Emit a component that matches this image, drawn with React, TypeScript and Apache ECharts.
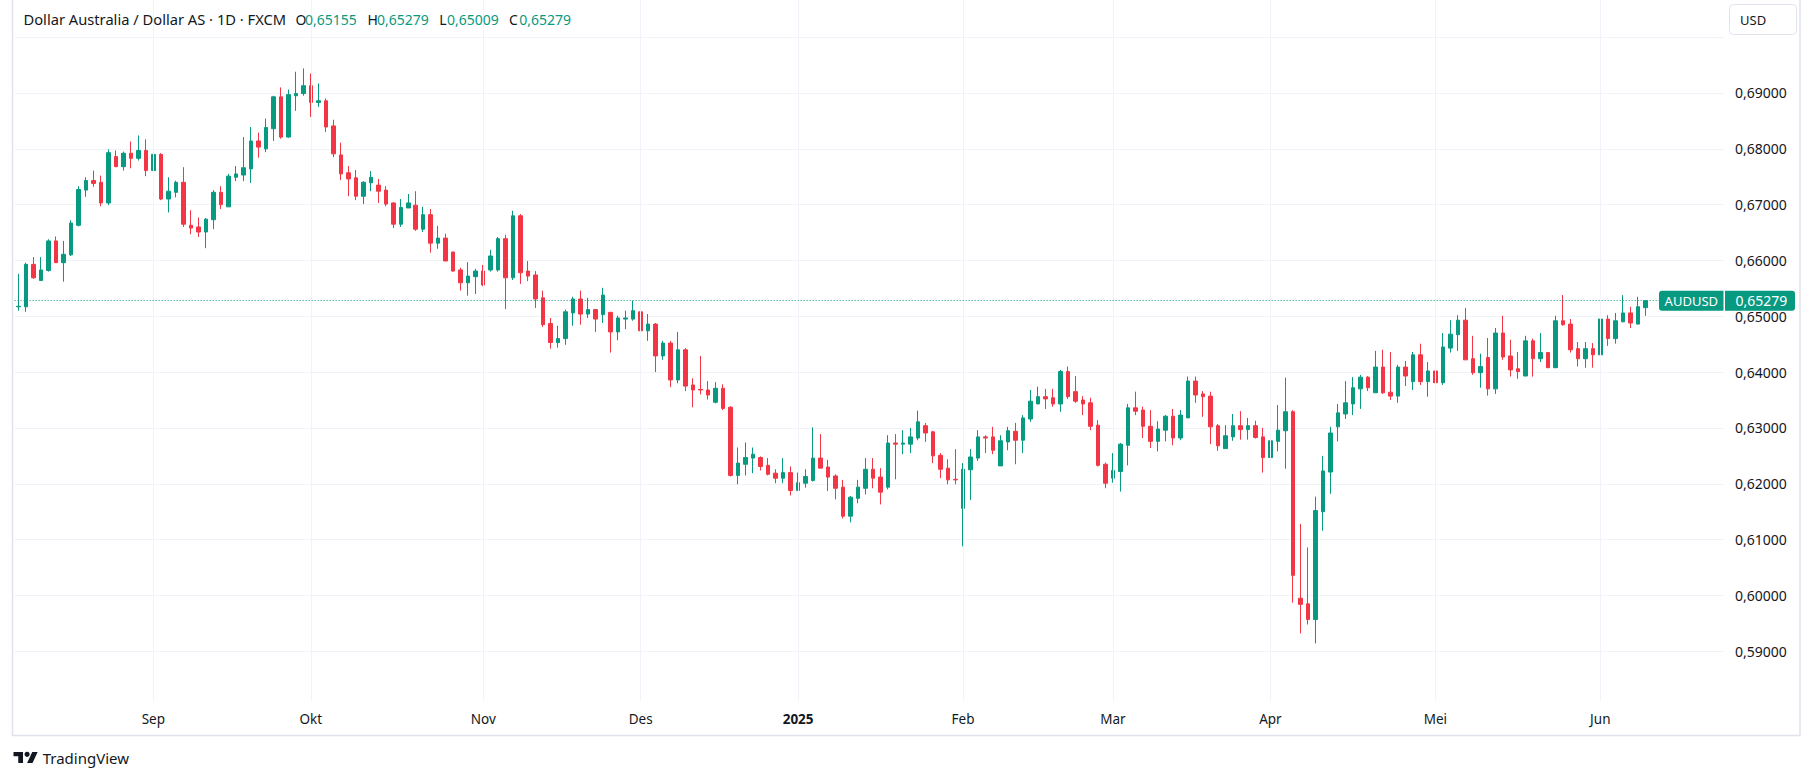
import React, { useEffect, useRef } from "react";
import * as echarts from "echarts";

const FONT = '"Noto Sans", "Open Sans", sans-serif';
const UP = "#089981";
const DOWN = "#f23645";
const TEXT = "#131722";
const GRID = "#f0f3fa";
const BORDER = "#e0e3eb";

const FIRST_DAY = "2024-08-07";
const LAST_DAY = "2025-06-10";
const MARKET_HOLIDAYS = ["2024-12-25", "2025-01-01"];
const EMPTY_BARS_RIGHT = 10;

const monthLabels: Record<string, string> = {
  "2024-09": "Sep",
  "2024-10": "Okt",
  "2024-11": "Nov",
  "2024-12": "Des",
  "2025-01": "2025",
  "2025-02": "Feb",
  "2025-03": "Mar",
  "2025-04": "Apr",
  "2025-05": "Mei",
  "2025-06": "Jun",
};

const titleText = "Dollar Australia / Dollar AS · 1D · FXCM";
const symbolText = "AUDUSD";
const currencyText = "USD";

const opens = [
  0.6517, 0.6517, 0.6593, 0.6564, 0.6582, 0.6635, 0.6596, 0.661, 0.6663, 0.6726,
  0.6743, 0.674, 0.6703, 0.6786, 0.6768, 0.6792, 0.6783, 0.6797, 0.6761, 0.679,
  0.671, 0.6722, 0.674, 0.6663, 0.666, 0.6651, 0.6673, 0.6722, 0.6696, 0.6749,
  0.6753, 0.6764, 0.6814, 0.68, 0.6836, 0.6893, 0.6821, 0.6895, 0.6899, 0.6913,
  0.6883, 0.6886, 0.6841, 0.6789, 0.6757, 0.6748, 0.6715, 0.6739, 0.6735, 0.6726,
  0.6703, 0.6665, 0.6694, 0.6699, 0.6656, 0.6682, 0.6631, 0.664, 0.6615, 0.6583,
  0.656, 0.6571, 0.6581, 0.6583, 0.6583, 0.6639, 0.6569, 0.668, 0.6581, 0.6574,
  0.6533, 0.6487, 0.6453, 0.646, 0.6506, 0.6531, 0.6504, 0.6512, 0.6503, 0.6507,
  0.6472, 0.6495, 0.6495, 0.6508, 0.6474, 0.6486, 0.6429, 0.6452, 0.6386, 0.644,
  0.6377, 0.6369, 0.6368, 0.6346, 0.6371, 0.6337, 0.6215, 0.6235, 0.6246, 0.6247,
  0.6233, 0.6219, 0.621, 0.622, 0.6188, 0.6201, 0.6206, 0.6246, 0.623, 0.6214,
  0.6194, 0.6142, 0.6174, 0.6192, 0.6226, 0.6212, 0.6194, 0.6273, 0.6271, 0.6271,
  0.6282, 0.6304, 0.6293, 0.6251, 0.6228, 0.6208, 0.6156, 0.6225, 0.6246, 0.6284,
  0.6284, 0.6232, 0.6275, 0.6294, 0.6278, 0.6316, 0.6343, 0.6356, 0.6354, 0.6343,
  0.6401, 0.6365, 0.635, 0.6345, 0.6305, 0.6235, 0.621, 0.6222, 0.6269, 0.6336,
  0.6332, 0.6303, 0.6276, 0.6296, 0.6321, 0.6282, 0.6318, 0.6384, 0.6361, 0.6357,
  0.6304, 0.6263, 0.6284, 0.6304, 0.6297, 0.6304, 0.6284, 0.6247, 0.6276, 0.6295,
  0.6329, 0.5995, 0.5985, 0.5957, 0.615, 0.6221, 0.6302, 0.6325, 0.6343, 0.637,
  0.6391, 0.6363, 0.6409, 0.6364, 0.6357, 0.6409, 0.6383, 0.6431, 0.6383, 0.6402,
  0.6381, 0.6443, 0.6467, 0.6493, 0.6424, 0.6399, 0.6426, 0.637, 0.647, 0.6429,
  0.6406, 0.6393, 0.6456, 0.6424, 0.6435, 0.6408, 0.6492, 0.6486, 0.6442, 0.6424,
  0.6442, 0.6431, 0.6495, 0.646, 0.649, 0.6506, 0.6486, 0.65155,
];

const highs = [
  0.6576, 0.6596, 0.6606, 0.6606, 0.6638, 0.6643, 0.6635, 0.6672, 0.6733, 0.6749,
  0.6761, 0.6752, 0.6799, 0.6797, 0.6795, 0.6813, 0.6824, 0.6817, 0.6795, 0.6792,
  0.6749, 0.6743, 0.6767, 0.669, 0.6677, 0.6676, 0.6726, 0.6733, 0.6755, 0.6769,
  0.6821, 0.6839, 0.6829, 0.6854, 0.6895, 0.691, 0.6906, 0.6938, 0.6944, 0.6935,
  0.6917, 0.689, 0.6852, 0.6811, 0.6769, 0.6762, 0.6742, 0.676, 0.6746, 0.6733,
  0.6704, 0.671, 0.6719, 0.6724, 0.6696, 0.6692, 0.6662, 0.6648, 0.6616, 0.6587,
  0.6597, 0.6585, 0.6592, 0.6619, 0.6642, 0.6646, 0.6689, 0.6683, 0.6599, 0.6581,
  0.6546, 0.6497, 0.6483, 0.6512, 0.6535, 0.6546, 0.6533, 0.6513, 0.6551, 0.6508,
  0.6501, 0.651, 0.6528, 0.6515, 0.6504, 0.6488, 0.6456, 0.6456, 0.6472, 0.6443,
  0.6389, 0.6429, 0.6384, 0.6382, 0.6378, 0.6339, 0.6265, 0.6274, 0.6265, 0.6249,
  0.6246, 0.6226, 0.6246, 0.6231, 0.622, 0.6226, 0.6301, 0.6289, 0.6243, 0.6217,
  0.6207, 0.6178, 0.6207, 0.6246, 0.6246, 0.6228, 0.6287, 0.6289, 0.6296, 0.63,
  0.6331, 0.6309, 0.6295, 0.6255, 0.6244, 0.6262, 0.6237, 0.6262, 0.6296, 0.6287,
  0.6302, 0.6287, 0.6302, 0.6309, 0.6323, 0.6368, 0.6374, 0.637, 0.637, 0.6404,
  0.641, 0.6393, 0.6357, 0.6354, 0.6314, 0.6238, 0.6255, 0.6273, 0.6343, 0.6365,
  0.6338, 0.6332, 0.6312, 0.6323, 0.6334, 0.6332, 0.6392, 0.6392, 0.6366, 0.6365,
  0.6307, 0.6305, 0.6325, 0.633, 0.6318, 0.6313, 0.63, 0.6284, 0.6341, 0.639,
  0.6332, 0.6128, 0.6086, 0.6177, 0.625, 0.6302, 0.6343, 0.6384, 0.6391, 0.6395,
  0.6393, 0.6438, 0.644, 0.6436, 0.6413, 0.642, 0.6436, 0.6451, 0.6418, 0.641,
  0.647, 0.6493, 0.6502, 0.6515, 0.6465, 0.6433, 0.6461, 0.6479, 0.6501, 0.6458,
  0.6436, 0.6465, 0.646, 0.647, 0.6436, 0.6501, 0.6538, 0.6495, 0.6454, 0.6454,
  0.6452, 0.6501, 0.6502, 0.6506, 0.6538, 0.6517, 0.6535, 0.65279,
];

const lows = [
  0.651, 0.6508, 0.6567, 0.6564, 0.658, 0.6596, 0.6562, 0.6608, 0.6661, 0.6714,
  0.6732, 0.6697, 0.6699, 0.6767, 0.6761, 0.6765, 0.6779, 0.6751, 0.6756, 0.6708,
  0.6686, 0.6713, 0.666, 0.6647, 0.6642, 0.6622, 0.6656, 0.6692, 0.6696, 0.6742,
  0.6742, 0.6739, 0.6784, 0.6794, 0.6814, 0.6818, 0.682, 0.6868, 0.6895, 0.6857,
  0.6875, 0.683, 0.6785, 0.6744, 0.6715, 0.6708, 0.6701, 0.6724, 0.6703, 0.6697,
  0.6658, 0.666, 0.6694, 0.6653, 0.6651, 0.6614, 0.6621, 0.6599, 0.658, 0.6546,
  0.6537, 0.654, 0.6554, 0.658, 0.658, 0.6513, 0.6565, 0.6558, 0.6563, 0.6515,
  0.6481, 0.6442, 0.6444, 0.6449, 0.6483, 0.6485, 0.6497, 0.6472, 0.6488, 0.6435,
  0.6457, 0.6477, 0.6492, 0.6443, 0.6456, 0.64, 0.6422, 0.6373, 0.638, 0.6366,
  0.6337, 0.636, 0.6351, 0.6344, 0.6332, 0.6213, 0.6199, 0.6215, 0.6219, 0.6224,
  0.6215, 0.6201, 0.6201, 0.6179, 0.6188, 0.6193, 0.6204, 0.6228, 0.6187, 0.6172,
  0.6138, 0.6131, 0.6165, 0.6181, 0.6192, 0.6163, 0.619, 0.6208, 0.6253, 0.6255,
  0.6278, 0.6275, 0.6237, 0.621, 0.6199, 0.6199, 0.6088, 0.6171, 0.6241, 0.6255,
  0.6253, 0.6232, 0.626, 0.6235, 0.6255, 0.6311, 0.6343, 0.6334, 0.6338, 0.6329,
  0.6352, 0.6345, 0.6323, 0.6296, 0.6231, 0.6192, 0.6202, 0.6186, 0.6233, 0.6323,
  0.6282, 0.6264, 0.6258, 0.6276, 0.6269, 0.6278, 0.6318, 0.6345, 0.632, 0.6271,
  0.6259, 0.6263, 0.6277, 0.6279, 0.6279, 0.6281, 0.622, 0.6233, 0.6258, 0.6227,
  0.5987, 0.5932, 0.5948, 0.5914, 0.6116, 0.6182, 0.6276, 0.6316, 0.6323, 0.6334,
  0.6366, 0.6363, 0.6361, 0.635, 0.6345, 0.6375, 0.6368, 0.6377, 0.6356, 0.6367,
  0.6377, 0.6435, 0.6438, 0.6422, 0.6395, 0.6372, 0.6358, 0.6361, 0.6422, 0.6392,
  0.6388, 0.6393, 0.6392, 0.6418, 0.6407, 0.6407, 0.6483, 0.6435, 0.641, 0.6408,
  0.6408, 0.6429, 0.6447, 0.6451, 0.649, 0.6479, 0.6486, 0.65009,
];

const closes = [
  0.6518, 0.6593, 0.6569, 0.6583, 0.6635, 0.6596, 0.6611, 0.6667, 0.6727, 0.6743,
  0.6738, 0.6703, 0.6793, 0.6768, 0.6792, 0.6783, 0.6797, 0.6761, 0.679, 0.671,
  0.6724, 0.674, 0.6665, 0.6658, 0.6651, 0.6674, 0.6722, 0.67, 0.6751, 0.6755,
  0.6766, 0.6814, 0.6803, 0.6838, 0.6893, 0.6821, 0.6897, 0.6899, 0.6913, 0.6883,
  0.6886, 0.6839, 0.6791, 0.6755, 0.6746, 0.6715, 0.674, 0.6749, 0.6724, 0.6701,
  0.6665, 0.6695, 0.6703, 0.6656, 0.6682, 0.6631, 0.664, 0.6599, 0.6581, 0.656,
  0.6572, 0.6581, 0.6556, 0.6608, 0.6639, 0.6569, 0.668, 0.6578, 0.6572, 0.6531,
  0.6485, 0.6453, 0.646, 0.6508, 0.6531, 0.6504, 0.6512, 0.6495, 0.6538, 0.6472,
  0.6497, 0.6497, 0.651, 0.6474, 0.6486, 0.6429, 0.6452, 0.6386, 0.644, 0.6375,
  0.6368, 0.6368, 0.6359, 0.6371, 0.6335, 0.6215, 0.6237, 0.6247, 0.6253, 0.6231,
  0.6217, 0.621, 0.622, 0.6188, 0.6202, 0.6213, 0.6246, 0.6228, 0.6212, 0.6192,
  0.6142, 0.6176, 0.6194, 0.6226, 0.621, 0.6185, 0.6273, 0.6271, 0.6273, 0.6284,
  0.6311, 0.6291, 0.625, 0.6226, 0.6207, 0.6207, 0.6226, 0.6248, 0.6284, 0.6282,
  0.626, 0.6277, 0.6295, 0.6278, 0.6318, 0.6348, 0.6356, 0.6352, 0.6343, 0.6401,
  0.6356, 0.6348, 0.6343, 0.6303, 0.6233, 0.6201, 0.6224, 0.6271, 0.6336, 0.633,
  0.6303, 0.6276, 0.6298, 0.6321, 0.6282, 0.6323, 0.6384, 0.6359, 0.6356, 0.6302,
  0.6268, 0.6286, 0.6304, 0.6297, 0.6304, 0.6283, 0.6247, 0.6277, 0.6296, 0.6329,
  0.6036, 0.5984, 0.5957, 0.6152, 0.6223, 0.6291, 0.6327, 0.6345, 0.6372, 0.6391,
  0.6372, 0.6409, 0.6363, 0.6357, 0.6409, 0.6393, 0.6431, 0.6383, 0.6402, 0.6381,
  0.6445, 0.6468, 0.6493, 0.6422, 0.6399, 0.641, 0.637, 0.647, 0.6427, 0.6404,
  0.6401, 0.6456, 0.6424, 0.6435, 0.6408, 0.6492, 0.6485, 0.644, 0.6424, 0.6442,
  0.6431, 0.6495, 0.646, 0.6492, 0.6506, 0.6488, 0.6517, 0.65279,
];

const Y_MIN = 0.58;
const Y_MAX = 0.71;
const Y_STEP = 0.01;

echarts.graphic.registerShape(
  "tvlogo",
  echarts.graphic.extendPath("M14 22H7V11H0V4h14v18zM28 22h-8l7.5-18h8L28 22z", {})
);

function buildTradingDays(first: string, last: string, holidays: string[]): string[] {
  const out: string[] = [];
  const d = new Date(first + "T00:00:00Z");
  const end = new Date(last + "T00:00:00Z");
  while (d.getTime() <= end.getTime()) {
    const wd = d.getUTCDay();
    const s = d.toISOString().slice(0, 10);
    if (wd !== 0 && wd !== 6 && holidays.indexOf(s) < 0) out.push(s);
    d.setUTCDate(d.getUTCDate() + 1);
  }
  return out;
}

const fmtPrice = (v: number) => v.toFixed(5).replace(".", ",");

export default function App() {
  const ref = useRef<HTMLDivElement>(null);

  useEffect(() => {
    const el = ref.current;
    if (!el) return;
    const chart = echarts.init(el, null, { renderer: "svg" });

    const days = buildTradingDays(FIRST_DAY, LAST_DAY, MARKET_HOLIDAYS);
    const categories = [
      ...days,
      ...Array.from({ length: EMPTY_BARS_RIGHT }, (_, i) => "pad" + i),
    ];
    const monthStart = new Set<number>();
    days.forEach((d, i) => {
      if (i > 0 && d.slice(0, 7) !== days[i - 1].slice(0, 7)) monthStart.add(i);
    });
    const candles = opens.map((o, i) => [o, closes[i], lows[i], highs[i]]);
    const lastClose = closes[closes.length - 1];

    const gridLeft = 14.65;
    const gridRight = 89;

    chart.setOption({
      animation: false,
      backgroundColor: "#ffffff",
      textStyle: { fontFamily: FONT },
      grid: [
        { left: gridLeft, right: gridRight, top: -18.7, bottom: 72.9, outerBoundsMode: "none" },
        { left: gridLeft, right: gridRight, top: 0, bottom: 79.3, outerBoundsMode: "none" },
      ],
      xAxis: [
        {
          type: "category",
          gridIndex: 0,
          data: categories,
          boundaryGap: true,
          axisLine: { show: false },
          axisTick: { show: false },
          axisLabel: { show: false },
          splitLine: { show: false },
        },
        {
          type: "category",
          gridIndex: 1,
          data: categories,
          boundaryGap: true,
          axisLine: { show: false },
          axisTick: { show: false },
          splitLine: { show: false },
          axisLabel: {
            interval: (idx: number) => monthStart.has(idx),
            margin: 11,
            color: TEXT,
            fontSize: 13.5,
            fontFamily: FONT,
            formatter: (v: string) => {
              const lab = monthLabels[v.slice(0, 7)] || "";
              return lab === "2025" ? "{b|2025}" : lab;
            },
            rich: {
              b: { fontWeight: "bold", fontSize: 13.5, color: TEXT, fontFamily: FONT },
            },
          },
        },
      ],
      yAxis: [
        {
          type: "value",
          gridIndex: 0,
          position: "right",
          min: Y_MIN,
          max: Y_MAX,
          interval: Y_STEP,
          scale: true,
          axisLine: { show: false },
          axisTick: { show: false },
          splitLine: {
            show: true,
            showMinLine: false,
            showMaxLine: false,
            lineStyle: { color: GRID, width: 1 },
          },
          axisLabel: {
            margin: 11,
            color: TEXT,
            fontSize: 14,
            fontFamily: FONT,
            formatter: (v: number) => (v > 0.695 || v < 0.585 ? "" : fmtPrice(v)),
          },
        },
        { type: "value", gridIndex: 1, min: 0, max: 1, show: false },
      ],
      series: [
        {
          type: "line",
          xAxisIndex: 1,
          yAxisIndex: 1,
          data: categories.map(() => "-"),
          showSymbol: false,
          silent: true,
          z: 1,
          markLine: {
            silent: true,
            symbol: ["none", "none"],
            label: { show: false },
            emphasis: { disabled: true },
            lineStyle: { color: GRID, width: 1, type: "solid" },
            data: Array.from(monthStart).map((i) => ({ xAxis: days[i] })),
          },
        },
        {
          type: "candlestick",
          xAxisIndex: 0,
          yAxisIndex: 0,
          data: candles,
          barWidth: 4,
          z: 3,
          itemStyle: {
            color: UP,
            color0: DOWN,
            borderColor: UP,
            borderColor0: DOWN,
            borderWidth: 1,
          },
          markLine: {
            silent: true,
            precision: 5,
            symbol: ["none", "none"],
            label: { show: false },
            emphasis: { disabled: true },
            lineStyle: { color: UP, width: 1, type: [1, 2] },
            data: [{ yAxis: lastClose }],
          },
        },
      ],
    });

    const py = chart.convertToPixel({ yAxisIndex: 0 }, lastClose) as number;
    const ohlcLast = [opens[opens.length - 1], highs[highs.length - 1], lows[lows.length - 1], lastClose];
    const keys = ["O", "H", "L", "C"];
    const keyX = [295.4, 367.4, 439.3, 509];
    const valX = [305, 377, 447, 519.3];

    const headerEls: any[] = [
      {
        id: "title",
        type: "text",
        x: 23.5,
        y: 19,
        z: 100,
        style: { text: titleText, fill: TEXT, fontSize: 14.7, fontFamily: FONT, verticalAlign: "middle" },
      },
    ];
    keys.forEach((k, i) => {
      headerEls.push({
        id: "k" + k,
        type: "text",
        x: keyX[i],
        y: 19,
        z: 100,
        style: { text: k, fill: TEXT, fontSize: 14, fontFamily: FONT, verticalAlign: "middle" },
      });
      headerEls.push({
        id: "v" + k,
        type: "text",
        x: valX[i],
        y: 19,
        z: 100,
        style: {
          text: fmtPrice(ohlcLast[i]),
          fill: UP,
          fontSize: 14,
          fontFamily: FONT,
          verticalAlign: "middle",
        },
      });
    });

    chart.setOption({
      graphic: [
        {
          id: "frame",
          type: "rect",
          z: 50,
          silent: true,
          shape: { x: 12.5, y: -10, width: 1787.5, height: 745.5 },
          style: { fill: "none", stroke: BORDER, lineWidth: 1.5 },
        },
        ...headerEls,
        {
          id: "usdBox",
          type: "rect",
          z: 100,
          shape: { x: 1729.5, y: 4.5, width: 67, height: 30, r: 4 },
          style: { fill: "#ffffff", stroke: BORDER, lineWidth: 1 },
        },
        {
          id: "usdText",
          type: "text",
          x: 1740,
          y: 20,
          z: 101,
          style: { text: currencyText, fill: TEXT, fontSize: 13, fontFamily: FONT, verticalAlign: "middle" },
        },
        {
          id: "symBox",
          type: "rect",
          z: 100,
          shape: { x: 1659, y: py - 10, width: 64.5, height: 20, r: [3, 0, 0, 3] },
          style: { fill: UP },
        },
        {
          id: "symText",
          type: "text",
          x: 1691.3,
          y: py,
          z: 101,
          style: {
            text: symbolText,
            fill: "#ffffff",
            fontSize: 13,
            fontFamily: FONT,
            align: "center",
            verticalAlign: "middle",
          },
        },
        {
          id: "priceBox",
          type: "rect",
          z: 100,
          shape: { x: 1725, y: py - 10, width: 70, height: 20, r: [0, 3, 3, 0] },
          style: { fill: UP },
        },
        {
          id: "priceText",
          type: "text",
          x: 1735.5,
          y: py,
          z: 101,
          style: {
            text: fmtPrice(lastClose),
            fill: "#ffffff",
            fontSize: 14,
            fontFamily: FONT,
            verticalAlign: "middle",
          },
        },
        {
          id: "logoShape",
          type: "tvlogo",
          x: 13.5,
          y: 749.4,
          scaleX: 0.68,
          scaleY: 0.62,
          z: 100,
          style: { fill: TEXT },
        },
        {
          id: "logoDot",
          type: "circle",
          z: 100,
          shape: { cx: 13.5 + 20 * 0.68, cy: 749.4 + 8 * 0.62, r: 4 * 0.65 },
          style: { fill: TEXT },
        },
        {
          id: "logoText",
          type: "text",
          x: 42.7,
          y: 758,
          z: 100,
          style: { text: "TradingView", fill: TEXT, fontSize: 15, fontFamily: FONT, verticalAlign: "middle" },
        },
      ],
    });

    return () => {
      chart.dispose();
    };
  }, []);

  return (
    <div
      ref={ref}
      style={{ position: "fixed", left: 0, top: 0, width: 1813, height: 780, background: "#ffffff" }}
    />
  );
}
